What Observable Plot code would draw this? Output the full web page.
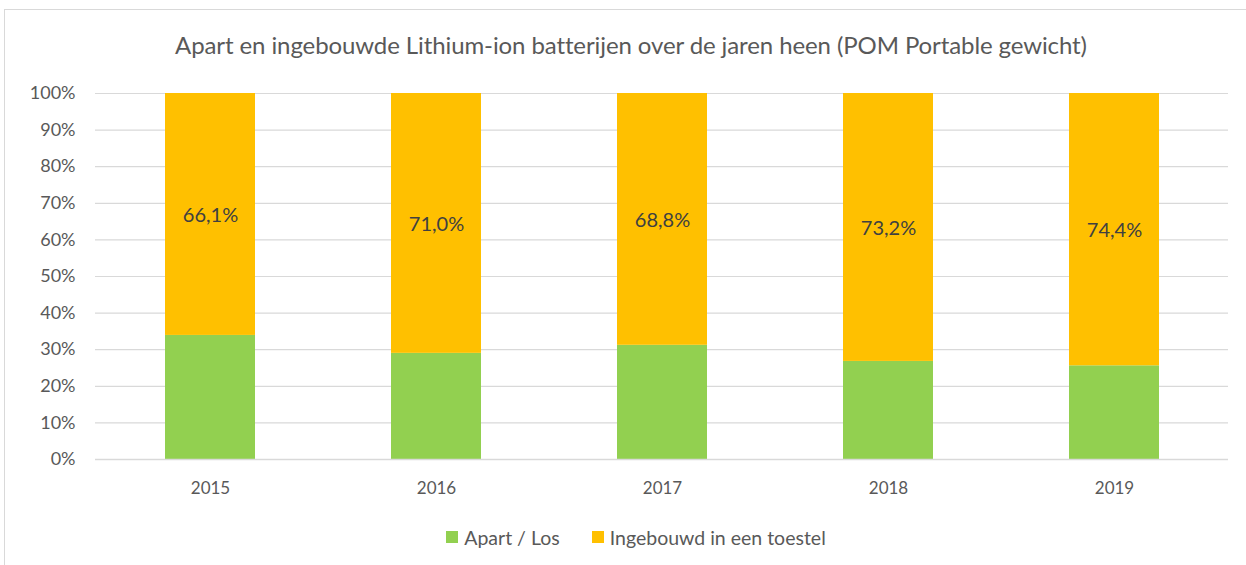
<!DOCTYPE html>
<html>
<head>
<meta charset="utf-8">
<script src="https://cdn.jsdelivr.net/npm/d3@7"></script>
<script src="https://cdn.jsdelivr.net/npm/@observablehq/plot@0.6"></script>
<style>
  html, body { margin: 0; padding: 0; background: #fff; }
  body { width: 1246px; height: 565px; overflow: hidden; position: relative; font-family: Lato, "Open Sans", sans-serif; }
  #frame { position: absolute; left: 4px; top: 9px; width: 1260px; height: 600px; border: 1px solid #d9d9d9; box-sizing: border-box; }
  #title { position: absolute; left: 0; top: 0; width: 1262px; height: 70px; line-height: 90px; text-align: center; font-size: 24px; color: #595959; letter-spacing: -0.1px; }
  #chart { position: absolute; left: 0; top: 70px; }
  #legend { position: absolute; left: 0; top: 510px; width: 1272px; height: 54px; display: flex; justify-content: center; align-items: center; gap: 32px; font-size: 19.5px; color: #595959; }
  .item { display: flex; align-items: center; gap: 6px; }
  .sw { width: 12px; height: 12px; display: inline-block; }
</style>
</head>
<body>
<div id="frame"></div>
<div id="title">Apart en ingebouwde Lithium-ion batterijen over de jaren heen (POM Portable gewicht)</div>
<div id="chart"></div>
<div id="legend"></div>
<script>
const years = ["2015", "2016", "2017", "2018", "2019"];
const ingebouwd = [66.1, 71.0, 68.8, 73.2, 74.4];
const apart = [33.9, 29.0, 31.2, 26.8, 25.6];
const seriesNames = ["Apart / Los", "Ingebouwd in een toestel"];
const seriesColors = ["#92D050", "#FFC000"];
const yTicks = [0, 10, 20, 30, 40, 50, 60, 70, 80, 90, 100];

const rows = [];
years.forEach((y, i) => {
  rows.push({year: y, series: seriesNames[0], value: apart[i], label: null});
  rows.push({year: y, series: seriesNames[1], value: ingebouwd[i], label: ingebouwd[i].toFixed(1).replace(".", ",") + "%"});
});

const plot = Plot.plot({
  width: 1246,
  height: 440,
  marginTop: 23,
  marginBottom: 51,
  marginLeft: 95,
  marginRight: 18,
  style: {fontFamily: "Lato, 'Open Sans', sans-serif", color: "#595959", background: "transparent", overflow: "visible"},
  x: {domain: years, paddingInner: 0.603, paddingOuter: 0.3015, label: null},
  y: {domain: [0, 100], label: null},
  color: {domain: seriesNames, range: seriesColors},
  marks: [
    Plot.gridY(yTicks, {stroke: "#d9d9d9", strokeOpacity: 1, strokeWidth: 1.2}),
    Plot.barY(rows, {x: "year", y: "value", fill: "series", order: seriesNames}),
    Plot.ruleY([0], {stroke: "#d9d9d9", strokeWidth: 1.5}),
    Plot.text(rows, Plot.stackY({x: "year", y: "value", z: "series", order: seriesNames, text: "label", fill: "#404040", fontSize: 20, dy: 1})),
    Plot.axisY(yTicks, {tickSize: 0, tickPadding: 20, tickFormat: d => d + "%", fontSize: 18, fill: "#595959"}),
    Plot.axisX(years, {tickSize: 0, tickPadding: 22, fontSize: 17, fill: "#595959"})
  ]
});
document.getElementById("chart").appendChild(plot);

const legend = document.getElementById("legend");
seriesNames.forEach((n, i) => {
  const it = document.createElement("div");
  it.className = "item";
  it.innerHTML = `<span class="sw" style="background:${seriesColors[i]}"></span><span>${n}</span>`;
  legend.appendChild(it);
});
</script>
</body>
</html>
